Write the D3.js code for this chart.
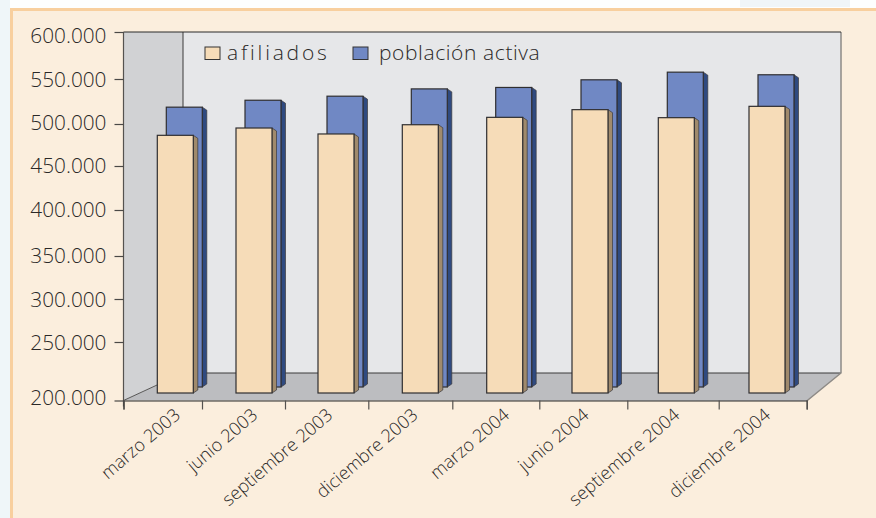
<!DOCTYPE html>
<html>
<head>
<meta charset="utf-8">
<script src="https://cdn.jsdelivr.net/npm/d3@7"></script>
<style>
  html, body { margin: 0; padding: 0; background: #fdfefe; }
  svg { display: block; }
  text { font-family: "Open Sans", sans-serif; fill: #2a2827; }
</style>
</head>
<body>
<svg width="876" height="518"></svg>
<script>
const categories = ["marzo 2003", "junio 2003", "septiembre 2003", "diciembre 2003",
  "marzo 2004", "junio 2004", "septiembre 2004", "diciembre 2004"];
const afiliados = [477600, 486300, 479200, 490200, 499000, 507600, 498600, 511300];
const poblacionActiva = [503700, 511400, 515900, 524000, 525600, 534100, 542600, 539700];
const yTicks = [200000, 250000, 300000, 350000, 400000, 450000, 500000, 550000, 600000];
const legendNames = ["afiliados", "población activa"];

const svg = d3.select("svg");
const width = +svg.attr("width");
const height = +svg.attr("height");

// the original axes are not evenly spaced, so the scales are piecewise
const x = d3.scaleLinear()
  .domain(d3.range(categories.length + 1))
  .range([123.5, 202, 285, 368.3, 452.3, 539.3, 627.3, 718.7, 806.7]);
const barX = d3.scaleLinear()
  .domain(d3.range(categories.length))
  .range([157.3, 236, 318, 402.3, 486.7, 572, 658.3, 749]);
const y = d3.scaleLinear()
  .domain(yTicks)
  .range([400.5, 342, 299, 256, 210, 166, 124, 79, 32]);

const color = { afiliados: ["#f6dcb8", "#a08a6c"], poblacion: ["#7088c4", "#2f4a80"] };
const esFormat = v => d3.format(",")(v).replace(/,/g, ".");

// page and panel
svg.append("rect").attr("x", 0).attr("y", 0).attr("width", 10).attr("height", height).attr("fill", "#eff6f9");
svg.append("rect").attr("x", 740).attr("y", 0).attr("width", 110).attr("height", 7).attr("fill", "#f0f5f8");
svg.append("rect")
  .attr("x", 11.5).attr("y", 9.5)
  .attr("width", width).attr("height", height)
  .attr("fill", "#fbeedd")
  .attr("stroke", "#f8cf9e")
  .attr("stroke-width", 3);

// chart box
const boxLeft = x(0), boxRight = x(8), boxTop = y(600000), boxFloor = y(200000);
const backLeft = 183, backRight = 841, backFloor = 373;

const box = svg.append("g");
box.append("rect")
  .attr("x", backLeft).attr("y", boxTop)
  .attr("width", backRight - backLeft).attr("height", backFloor - boxTop)
  .attr("fill", "#e6e7e9");
box.append("path")
  .attr("d", `M${boxLeft},${boxTop}H${backLeft}V${backFloor}L${boxLeft},${boxFloor}Z`)
  .attr("fill", "#d1d2d4");
box.append("path")
  .attr("d", `M${boxLeft},${boxFloor}L${backLeft},${backFloor}H${backRight}L${boxRight},${boxFloor + 0.5}Z`)
  .attr("fill", "#bcbdc0");
box.append("path")
  .attr("d", `M${backLeft},${boxTop}V${backFloor}H${backRight}`)
  .attr("fill", "none").attr("stroke", "#3a3a3a").attr("stroke-width", 1);
box.append("path")
  .attr("d", `M${backRight},${boxTop}V${backFloor}L${boxRight},${boxFloor + 0.5}`)
  .attr("fill", "none").attr("stroke", "#8d8a86").attr("stroke-width", 1.5);
box.append("path")
  .attr("d", `M${backLeft},${backFloor}L${boxLeft},${boxFloor}`)
  .attr("fill", "none").attr("stroke", "#3a3a3a").attr("stroke-width", 0.8);
box.append("path")
  .attr("d", `M${boxLeft},${boxTop}H${backRight}`)
  .attr("fill", "none").attr("stroke", "#2b2b2b").attr("stroke-width", 1.2);

// bars
const barWidth = 36, depthX = 4.5, depthY = 3;

function drawSeries(values, cols, dx, dy) {
  const bars = svg.append("g").selectAll("g")
    .data(values)
    .enter()
    .append("g")
    .attr("transform", (d, i) => `translate(${barX(i) + dx},${y(d) - dy})`);

  bars.append("path")
    .attr("d", d => {
      const h = y(200000) - y(d);
      return `M${barWidth},0l${depthX},${depthY}V${h - depthY}l${-depthX},${depthY}Z`;
    })
    .attr("fill", cols[1])
    .attr("stroke", "#3b3a3c")
    .attr("stroke-width", 0.7);

  bars.append("rect")
    .attr("width", barWidth)
    .attr("height", d => y(200000) - y(d))
    .attr("fill", cols[0])
    .attr("stroke", "#2f2e30")
    .attr("stroke-width", 1.2);
}

drawSeries(poblacionActiva, color.poblacion, 9, 13.5);
drawSeries(afiliados, color.afiliados, 0, 7.5);

// axes
const labelShift = [-3, 0.5, 0.5, 0, -0.5, -0.5, -1, 0.5, 3.5];

const yAxis = svg.append("g")
  .attr("transform", `translate(${boxLeft},0)`)
  .call(d3.axisLeft(y).tickValues(yTicks).tickFormat(esFormat).tickSize(9).tickPadding(8));
yAxis.select(".domain").attr("d", `M0,${boxTop}V${boxFloor + 6}`).attr("stroke", "#55524f").attr("stroke-width", 1.2);
yAxis.selectAll(".tick line").attr("stroke", "#4a4846").attr("stroke-width", 1.2);
yAxis.selectAll(".tick text")
  .attr("y", (d, i) => labelShift[i])
  .style("font-size", "20.8px")
  .style("font-family", "'Open Sans', sans-serif")
  .style("font-weight", 300);

const xAxis = svg.append("g")
  .attr("transform", `translate(0,${boxFloor})`)
  .call(d3.axisBottom(x).tickValues(d3.range(9)).tickFormat(() => "").tickSize(9));
xAxis.select(".domain").attr("stroke", "#2b2b2b").attr("stroke-width", 1.2);
xAxis.selectAll(".tick line").attr("stroke", "#55524f").attr("stroke-width", 1.2);

// labels sit unevenly under the bands in the original
const labelNudge = [15, 11.5, 3.5, 5, 11, 3, 4, 5];

svg.append("g").selectAll("text")
  .data(categories)
  .enter()
  .append("text")
  .attr("transform", (d, i) => `translate(${(x(i) + x(i + 1)) / 2 + labelNudge[i]},${boxFloor + 12}) rotate(-40.5)`)
  .attr("text-anchor", "end")
  .attr("dy", "0.32em")
  .style("font-size", "18px")
  .style("font-weight", 300)
  .text(d => d);

// legend
const legend = svg.append("g").attr("transform", "translate(205,46.5)");
const legendX = [0, 148];
const legendCols = [color.afiliados[0], color.poblacion[0]];

legendNames.forEach((name, i) => {
  legend.append("rect")
    .attr("x", legendX[i]).attr("y", 0.5)
    .attr("width", 15).attr("height", 12.5)
    .attr("fill", legendCols[i])
    .attr("stroke", "#333")
    .attr("stroke-width", 1);

  legend.append("text")
    .attr("x", legendX[i] + (i === 0 ? 22 : 26))
    .attr("y", 13)
    .style("font-size", "21px")
    .style("font-weight", 300)
    .style("letter-spacing", i === 0 ? "2.8px" : "0.6px")
    .text(name);
});
</script>
</body>
</html>
